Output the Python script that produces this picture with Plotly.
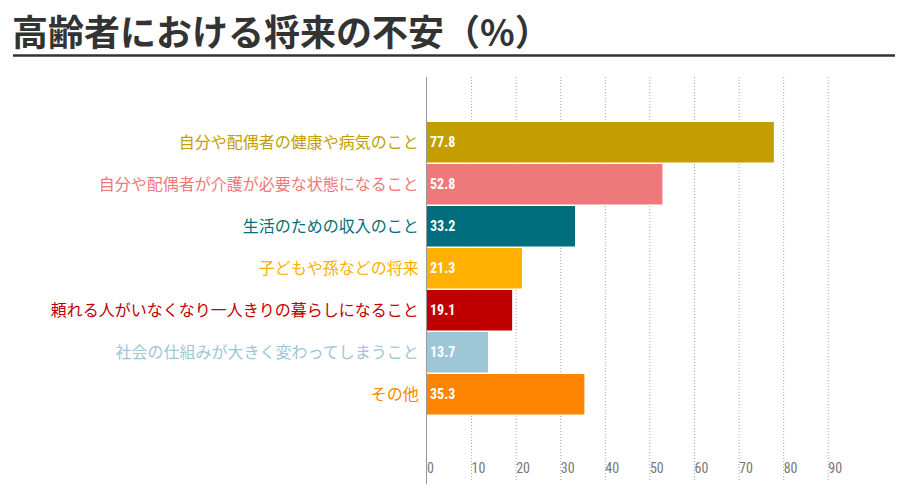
import plotly.graph_objects as go

categories = [
    "自分や配偶者の健康や病気のこと",
    "自分や配偶者が介護が必要な状態になること",
    "生活のための収入のこと",
    "子どもや孫などの将来",
    "頼れる人がいなくなり一人きりの暮らしになること",
    "社会の仕組みが大きく変わってしまうこと",
    "その他",
]
values = [77.8, 52.8, 33.2, 21.3, 19.1, 13.7, 35.3]
colors = ["#C49E00", "#EF797A", "#006E7D", "#FFB000", "#C00000", "#9DC6D6", "#FF8500"]
x_ticks = [0, 10, 20, 30, 40, 50, 60, 70, 80, 90]
title = "高齢者における将来の不安（%）"

cjk = "Noto Sans CJK JP, sans-serif"
narrow = "Liberation Sans Narrow, Roboto Condensed, Roboto, sans-serif"

# page is offset by the default 8px body margin
OFF = 8
W, H = 903 - OFF, 489 - OFF
L, T = 427 - OFF, 77 - OFF
R = W - (855 - OFF)
B = H - (484 - OFF)
pw, ph = W - L - R, H - T - B

ticktext = [f'<span style="color:{c}">{t}</span>' for t, c in zip(categories, colors)]

fig = go.Figure(
    go.Bar(
        x=values,
        y=list(range(len(categories))),
        orientation="h",
        marker=dict(color=colors, line=dict(width=0)),
        width=0.965,
        text=[f"<b>{v:.1f}</b>" for v in values],
        textposition="inside",
        insidetextanchor="start",
        textfont=dict(color="white", size=14, family=narrow),
        hoverinfo="skip",
    )
)

for t in x_ticks[1:]:
    fig.add_shape(type="line", xref="x", yref="paper", x0=t, x1=t, y0=0.01, y1=1,
                  line=dict(color="#A0A0A0", width=1, dash="1px,2px"), layer="below")

fig.update_layout(
    width=W,
    height=H,
    margin=dict(l=L, r=R, t=T, b=B),
    paper_bgcolor="white",
    plot_bgcolor="white",
    showlegend=False,
    xaxis=dict(
        range=[0, 96],
        tickvals=x_ticks,
        ticktext=[str(t) for t in x_ticks],
        ticklabelposition="inside right",
        ticklabelstandoff=2,
        showgrid=False,
        zeroline=False,
        showline=False,
        ticks="",
        automargin=False,
        tickfont=dict(size=14, color="#777777", family=narrow),
        fixedrange=True,
    ),
    yaxis=dict(
        range=[8.136, -1.555],
        tickvals=list(range(len(categories))),
        ticktext=ticktext,
        showgrid=False,
        zeroline=False,
        showline=True,
        linecolor="#999999",
        linewidth=1,
        ticks="",
        ticklabelstandoff=4,
        automargin=False,
        tickfont=dict(size=16, family=cjk),
        fixedrange=True,
    ),
    annotations=[
        dict(text=f"<b>{title}</b>", xref="paper", yref="paper",
             x=-(L - (11 - OFF)) / pw, y=1 + (T - (57 - OFF)) / ph,
             xanchor="left", yanchor="bottom", showarrow=False, borderpad=0,
             font=dict(size=36, color="#333333", family=cjk)),
    ],
)
uy = 1 + (T - (55.5 - OFF)) / ph
fig.add_shape(type="line", xref="paper", yref="paper",
              x0=-(L - (13 - OFF)) / pw, x1=(W - L) / pw,
              y0=uy, y1=uy, line=dict(color="#333333", width=2.5))

fig.write_html("out.html")
